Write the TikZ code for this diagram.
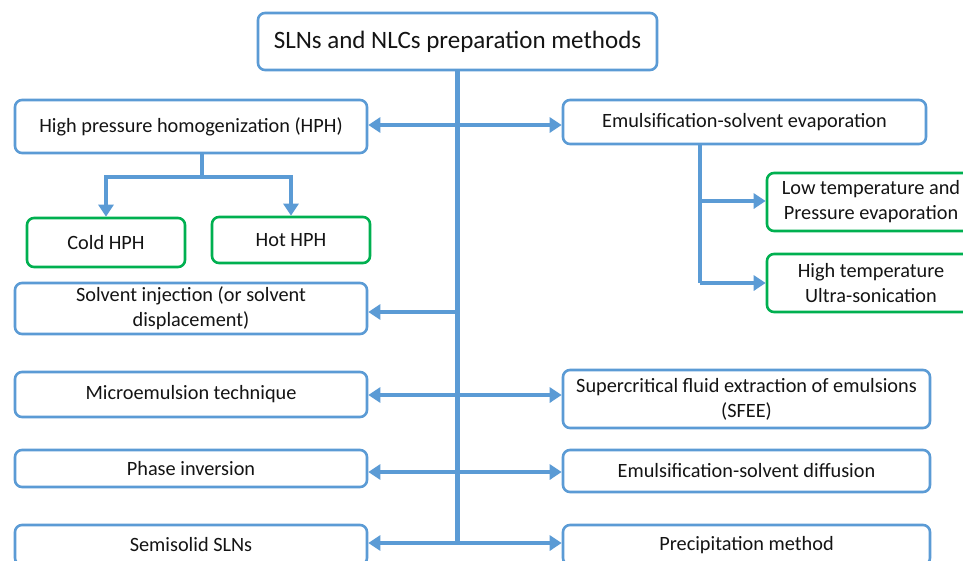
\documentclass[tikz,border=0pt]{standalone}
\usepackage{fontspec}
\setmainfont{Carlito}
\usetikzlibrary{arrows.meta}
\definecolor{bl}{RGB}{91,155,213}
\definecolor{gr}{RGB}{0,176,80}
\definecolor{tx}{RGB}{20,20,20}
\begin{document}
\begin{tikzpicture}[x=1pt,y=-1pt,
  box/.style={draw=bl, line width=2.6pt, rounded corners=7pt, fill=white, align=center, inner sep=0pt, font=\fontsize{20.3}{25}\selectfont, text=tx},
  gbox/.style={box, draw=gr},
  conn/.style={draw=bl, line width=4.5pt},
  arr/.style={conn, -{Triangle[length=12pt,width=15pt]}}]
\useasboundingbox (0,0) rectangle (963,560);
\clip (0,0) rectangle (963,560);
\fill[white] (0,0) rectangle (963,560);
% nodes
\node[box, minimum width=399pt, minimum height=57pt, font=\fontsize{25}{30}\selectfont] (title) at (457.5,41.5) {SLNs and NLCs preparation methods};
\node[box, minimum width=352pt, minimum height=53pt] (hph) at (191,126.5) {High pressure homogenization (HPH)};
\node[box, minimum width=363pt, minimum height=44pt] (emu) at (744.5,122) {Emulsification-solvent evaporation};
\node[gbox, minimum width=158pt, minimum height=49pt] (cold) at (106,242.5) {Cold HPH};
\node[gbox, minimum width=158pt, minimum height=46pt] (hot) at (291,240) {Hot HPH};
\node[gbox, minimum width=208pt, minimum height=58pt] (low) at (871,202) {Low temperature and\\Pressure evaporation};
\node[gbox, minimum width=208pt, minimum height=58pt] (high) at (871,283) {High temperature\\Ultra-sonication};
\node[box, minimum width=352pt, minimum height=51pt] (solv) at (191,308.5) {Solvent injection (or solvent\\displacement)};
\node[box, minimum width=352pt, minimum height=45pt] (micro) at (191,394.5) {Microemulsion technique};
\node[box, minimum width=352pt, minimum height=37pt] (phase) at (191,468.5) {Phase inversion};
\node[box, minimum width=352pt, minimum height=40pt] (semi) at (191,545) {Semisolid SLNs};
\node[box, minimum width=367pt, minimum height=58pt] (super) at (746.5,399) {Supercritical fluid extraction of emulsions\\(SFEE)};
\node[box, minimum width=367pt, minimum height=42pt] (diff) at (746.5,471) {Emulsification-solvent diffusion};
\node[box, minimum width=367pt, minimum height=40pt] (prec) at (746.5,545) {Precipitation method};
% junctions
\coordinate (j1) at (457.5,125);
\coordinate (j2) at (457.5,312);
\coordinate (j3) at (457.5,395);
\coordinate (j4) at (457.5,472);
\coordinate (j5) at (457.5,543);
\coordinate (h1) at (202,177);
\coordinate (e1) at (700,201);
\coordinate (e2) at (700,283);
% connectors
\draw[conn] (title.south) -- (j5);
\draw[arr] (j1) -- (j1 -| hph.east);
\draw[arr] (j1) -- (j1 -| emu.west);
\draw[arr] (j2) -- (j2 -| solv.east);
\draw[arr] (j3) -- (j3 -| micro.east);
\draw[arr] (j3) -- (j3 -| super.west);
\draw[arr] (j4) -- (j4 -| phase.east);
\draw[arr] (j4) -- (j4 -| diff.west);
\draw[arr] (j5) -- (j5 -| semi.east);
\draw[arr] (j5) -- (j5 -| prec.west);
\draw[conn] (hph.south -| h1) -- (h1);
\draw[arr] (h1) -| (cold.north);
\draw[arr] (h1) -| (hot.north);
\draw[conn] (emu.south -| e1) -- (e2);
\draw[arr] (e1) -- (e1 -| low.west);
\draw[arr] (e2) -- (e2 -| high.west);
\end{tikzpicture}
\end{document}
